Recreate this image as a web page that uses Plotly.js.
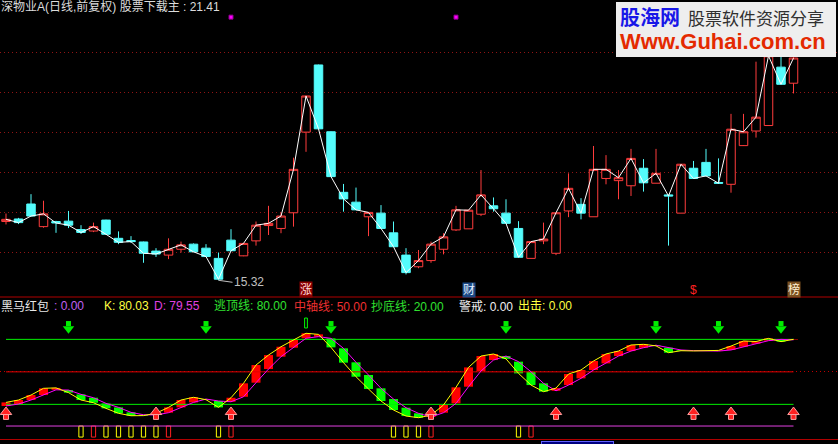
<!DOCTYPE html>
<html><head><meta charset="utf-8">
<script src="https://cdn.plot.ly/plotly-3.0.1.min.js"></script>
<style>html,body{margin:0;padding:0;background:#000;overflow:hidden}#chart{width:838px;height:444px}</style>
</head><body><div id="chart"></div>
<script>
// ---- price candles (daily) ----
const openP  = [16.93,17.00,17.41,16.79,16.93,16.94,16.71,16.67,16.97,16.47,16.41,16.37,16.12,16.01,16.17,16.31,16.20,15.92,16.42,15.99,16.40,16.82,16.74,17.17,19.38,21.22,19.39,17.73,17.46,17.06,17.16,16.62,16.01,15.69,15.86,16.17,16.70,16.73,17.13,17.36,17.16,16.74,15.92,16.40,16.06,17.22,17.40,17.06,18.11,18.05,17.91,18.39,17.98,17.66,17.16,18.39,18.55,18.00,17.95,19.01,19.41,19.56,21.16,20.72];
const highP  = [17.15,17.03,17.68,17.50,16.95,17.22,16.83,16.90,16.98,16.66,16.53,16.38,16.20,16.47,16.38,16.33,16.31,16.08,16.72,16.33,16.93,17.36,17.18,18.68,20.38,21.23,19.40,17.96,17.86,17.18,17.38,16.93,16.20,16.15,16.38,16.61,17.36,17.25,18.34,17.59,17.54,16.94,16.38,16.90,17.17,18.25,17.57,19.00,18.75,18.34,18.92,18.64,18.92,17.66,18.50,18.59,18.92,18.66,19.88,19.88,21.31,21.90,21.77,21.77];
const lowP   = [16.85,16.86,17.08,16.76,16.62,16.75,16.59,16.64,16.57,16.31,16.34,15.80,15.96,15.90,16.08,16.10,15.96,15.32,16.12,15.98,16.27,16.56,16.61,16.79,18.84,19.46,18.16,17.20,17.25,16.53,16.74,16.24,15.48,15.65,15.80,16.03,16.67,16.73,17.08,17.20,16.88,15.95,15.92,16.31,16.01,17.05,16.99,17.06,17.95,17.54,17.63,17.75,17.98,16.27,17.16,18.11,18.18,17.97,17.72,19.00,19.23,19.56,20.69,20.44];
const closeP = [16.99,16.90,17.08,17.14,16.89,16.83,16.63,16.79,16.58,16.36,16.38,16.06,16.04,16.17,16.29,16.10,15.97,15.35,16.13,16.33,16.83,16.88,17.08,18.36,20.37,19.47,18.16,17.55,17.25,17.18,16.74,16.24,15.53,15.86,16.31,16.51,17.25,17.24,17.66,17.28,16.88,15.95,16.38,16.45,17.17,17.84,17.16,18.36,18.36,18.13,18.66,17.99,18.25,17.63,18.50,18.11,18.18,17.98,19.46,19.39,19.79,21.47,20.69,21.41];

// ---- 黑马红包 indicator ----
const kdjK = [21.8,24.0,28.6,34.8,35.2,30.8,24.0,21.5,16.3,11.7,9.5,9.6,11.8,17.2,24.0,26.5,24.3,17.2,26.1,39.4,56.3,65.5,73.2,79.4,85.6,84.6,72.6,58.5,45.5,34.2,23.1,14.8,9.2,7.7,10.0,19.4,35.7,54.1,64.6,66.5,62.0,48.6,37.8,31.7,35.0,48.0,51.7,60.0,66.5,69.2,74.8,75.4,74.0,67.7,69.5,69.3,69.5,69.8,73.8,78.5,78.0,80.9,77.9,80.03];
const kdjD = [18.5,20.3,24.0,28.6,33.4,33.2,29.2,26.1,20.9,17.2,12.6,10.4,10.2,12.3,17.2,21.8,24.9,23.1,22.4,27.0,40.0,52.6,64.0,72.3,81.0,82.5,80.9,71.7,58.8,47.1,34.8,24.9,16.9,11.7,8.3,12.3,20.9,36.3,50.8,60.9,64.6,59.4,50.1,39.4,32.5,37.8,44.0,51.7,57.8,64.6,69.2,72.3,74.6,72.3,70.2,69.6,69.4,69.2,70.2,73.2,76.0,78.8,80.0,79.55];
const escapeTop = 80, midAxis = 50, bottomFish = 20, redPacket = 0;
const sellArrowIdx = [5,16,26,40,52,57,62];
const buyArrowIdx  = [0,12,18,34,44,55,58,63];
const peakFlagIdx  = [24];
const attackIdx    = [6,8,9,10,11,12,17,31,32,33,41];   // yellow 出击 boxes
const warnIdx      = [7,13,18,34,42];                   // red 警戒 boxes
const topMarkIdx   = [18,36];
const eventIdx  = [24,37,55,63];
const eventText = ['涨','财','$','榜'];

const N = closeP.length;
const idx = closeP.map((_, i) => i);
const PANEL = 1 - 297/444;

const traces = [];
traces.push({type:'candlestick', x: idx, open: openP, high: highP, low: lowP, close: closeP,
  xaxis:'x', yaxis:'y', whiskerwidth:0, hoverinfo:'skip',
  increasing:{line:{color:'#ff3c3c', width:1}, fillcolor:'#000000'},
  decreasing:{line:{color:'#54fcfc', width:1}, fillcolor:'#54fcfc'}});
traces.push({type:'scatter', mode:'lines', x: idx, y: closeP, xaxis:'x', yaxis:'y',
  line:{color:'#ffffff', width:1}, hoverinfo:'skip'});
traces.push({type:'scatter', mode:'markers', x: topMarkIdx, y: topMarkIdx.map(() => 22.53), yaxis:'y',
  marker:{symbol:'square', size:4, color:'#ff00ff', line:{color:'#900090', width:1}}, hoverinfo:'skip'});

// lower panel
[[escapeTop,'#00f000'],[midAxis,'#e00000'],[bottomFish,'#00f000']].forEach(([v,c]) =>
  traces.push({type:'scatter', mode:'lines', x: idx, y: idx.map(() => v), yaxis:'y2',
    line:{color:c, width:1}, hoverinfo:'skip'}));
traces.push({type:'bar', x: idx, base: kdjD, y: kdjK.map((k,i) => k - kdjD[i]), width:0.72, yaxis:'y2',
  marker:{color: kdjK.map((k,i) => k >= kdjD[i] ? '#ff0000' : '#00ff00'), line:{width:0}}, hoverinfo:'skip'});
traces.push({type:'bar', x: attackIdx, base: attackIdx.map(() => redPacket), y: attackIdx.map(() => -10.2),
  width:0.34, yaxis:'y2', marker:{color:'rgba(0,0,0,0)', line:{color:'#ffff00', width:1}}, hoverinfo:'skip'});
traces.push({type:'bar', x: warnIdx, base: warnIdx.map(() => redPacket), y: warnIdx.map(() => -10.2),
  width:0.34, yaxis:'y2', marker:{color:'rgba(0,0,0,0)', line:{color:'#ff2020', width:1}}, hoverinfo:'skip'});
traces.push({type:'bar', x: peakFlagIdx, base: peakFlagIdx.map(() => 90.5), y: peakFlagIdx.map(() => 9.2),
  width:0.22, yaxis:'y2', marker:{color:'rgba(0,0,0,0)', line:{color:'#00ff00', width:1}}, hoverinfo:'skip'});
traces.push({type:'scatter', mode:'lines', x: idx, y: idx.map(() => redPacket), yaxis:'y2',
  line:{color:'#e040e0', width:1}, hoverinfo:'skip'});
traces.push({type:'scatter', mode:'lines', x: idx, y: kdjD, yaxis:'y2', line:{color:'#ff00ff', width:1}, hoverinfo:'skip'});
traces.push({type:'scatter', mode:'lines', x: idx, y: kdjK, yaxis:'y2', line:{color:'#ffff00', width:1}, hoverinfo:'skip'});
// arrows
traces.push({type:'scatter', mode:'markers', x: sellArrowIdx, y: sellArrowIdx.map(() => 94.6), yaxis:'y2',
  marker:{symbol:'square', size:5, color:'#00ee00', line:{width:0}}, hoverinfo:'skip'});
traces.push({type:'scatter', mode:'markers', x: sellArrowIdx, y: sellArrowIdx.map(() => 89.8), yaxis:'y2',
  marker:{symbol:'triangle-down', size:10, color:'#00ee00', line:{width:0}}, hoverinfo:'skip'});
traces.push({type:'scatter', mode:'markers', x: buyArrowIdx, y: buyArrowIdx.map(() => 8.4), yaxis:'y2',
  marker:{symbol:'square', size:5, color:'#ff2020', line:{color:'#ffa0a0', width:1}}, hoverinfo:'skip'});
traces.push({type:'scatter', mode:'markers', x: buyArrowIdx, y: buyArrowIdx.map(() => 12.9), yaxis:'y2',
  marker:{symbol:'triangle-up', size:10, color:'#ff2020', line:{color:'#ffa0a0', width:1}}, hoverinfo:'skip'});

const FONT = 'Liberation Sans, Noto Sans CJK SC, sans-serif';
const yPx = p => 1 - p/444;
const xPx = p => p/838;
const txt = (x, y, text, color, size, extra) => Object.assign({xref:'paper', yref:'paper', x: xPx(x), y: yPx(y),
  xanchor:'left', yanchor:'middle', text, showarrow:false, borderpad:0,
  font:{family:FONT, size: size || 12, color}}, extra || {});

let minI = 0; lowP.forEach((v,i) => { if (v < lowP[minI]) minI = i; });

const annotations = [
  txt(0, 7, '深物业A(日线,前复权) 股票下载主 : ' + closeP[N-1].toFixed(2), '#dcdcdc'),
  txt(0, 306, '黑马红包', '#e8e8e8'),
  txt(53, 306, ': ' + redPacket.toFixed(2), '#c060f0'),
  txt(103, 306, 'K: ' + kdjK[N-1].toFixed(2), '#ffff40'),
  txt(153, 306, 'D: ' + kdjD[N-1].toFixed(2), '#e040e0'),
  txt(213, 306, '逃顶线: ' + escapeTop.toFixed(2), '#30e030'),
  txt(293, 306, '中轴线: ' + midAxis.toFixed(2), '#f03030'),
  txt(370, 306, '抄底线: ' + bottomFish.toFixed(2), '#30e030'),
  txt(458, 306, '警戒: 0.00', '#f0f0f0'),
  txt(517, 306, '出击: 0.00', '#ffff40'),
  {xref:'x', yref:'y', x: minI, y: lowP[minI], text: lowP[minI].toFixed(2), showarrow:true, arrowhead:0,
   arrowwidth:1, arrowcolor:'#c0c0c0', ax:14, ay:2, xanchor:'left', yanchor:'middle', standoff:0, borderpad:0,
   font:{family:FONT, size:12, color:'#c0c0c0'}},
];
const evStyle = [['#8a0000','#ffd8d8'],['#1c4a86','#e0ecff'],['rgba(0,0,0,0)','#ff2020'],['#7a5020','#fff0d0']];
eventIdx.forEach((xi, k) => annotations.push({xref:'x', yref:'paper', x: xi, y: yPx(289.5), text: eventText[k],
  showarrow:false, xanchor:'center', yanchor:'middle', bgcolor: evStyle[k][0], borderpad:0,
  font:{family:FONT, size:12, color: evStyle[k][1]}}));
// watermark texts
annotations.push(txt(619, 18, '<b>股海网</b>', '#1818e8', 20));
annotations.push(txt(687, 20, '股票软件资源分享', '#303030', 17));
annotations.push(txt(619, 41, '<b>Www.Guhai.com.cn</b>', '#e42a00', 22, {font:{family:'Liberation Sans', size:22, color:'#e42a00'}}));
annotations.push({xref:'paper', yref:'paper', x: xPx(541), y: yPx(441), xanchor:'left', yanchor:'top',
  text:'2017/05/18/三', showarrow:false, bgcolor:'#000080', bordercolor:'#6060ff', borderwidth:1, borderpad:1,
  font:{family:FONT, size:11, color:'#ffffff'}});

const shapes = [
  {type:'line', xref:'paper', yref:'paper', x0:0, x1:1, y0:PANEL, y1:PANEL, line:{color:'#b00000', width:1}},
  {type:'line', xref:'paper', yref:'paper', x0:0, x1:1, y0:yPx(439.5), y1:yPx(439.5), line:{color:'#b00000', width:1}},
  {type:'rect', xref:'paper', yref:'paper', x0:xPx(616), x1:xPx(836), y0:yPx(57), y1:yPx(2),
   fillcolor:'#eeeeee', line:{width:0}, layer:'above'},
];

const layout = {
  width:838, height:444, margin:{l:0, r:0, t:0, b:0, pad:0},
  paper_bgcolor:'#000000', plot_bgcolor:'#000000', showlegend:false,
  barmode:'overlay', boxgap:0.32, boxgroupgap:0,
  xaxis:{range:[-0.48, 66.56], showgrid:false, zeroline:false, showticklabels:false, ticks:'',
         showline:false, rangeslider:{visible:false}, fixedrange:true},
  yaxis:{domain:[PANEL, 1], range:[14.862, 23.0], tickvals:[21.548,20.452,19.356,18.26,17.164,16.068],
         showticklabels:false, ticks:'', gridcolor:'#901414', griddash:'1px,3px', gridwidth:1, zeroline:false, showline:false},
  yaxis2:{domain:[0, PANEL], range:[-16.6, 119.1], anchor:'x', tickvals:[midAxis], showticklabels:false, ticks:'',
          gridcolor:'#c00000', griddash:'1px,3px', zeroline:false, showline:false},
  shapes, annotations, hovermode:false
};
Plotly.newPlot('chart', traces, layout, {staticPlot:true, displayModeBar:false});
</script></body></html>
